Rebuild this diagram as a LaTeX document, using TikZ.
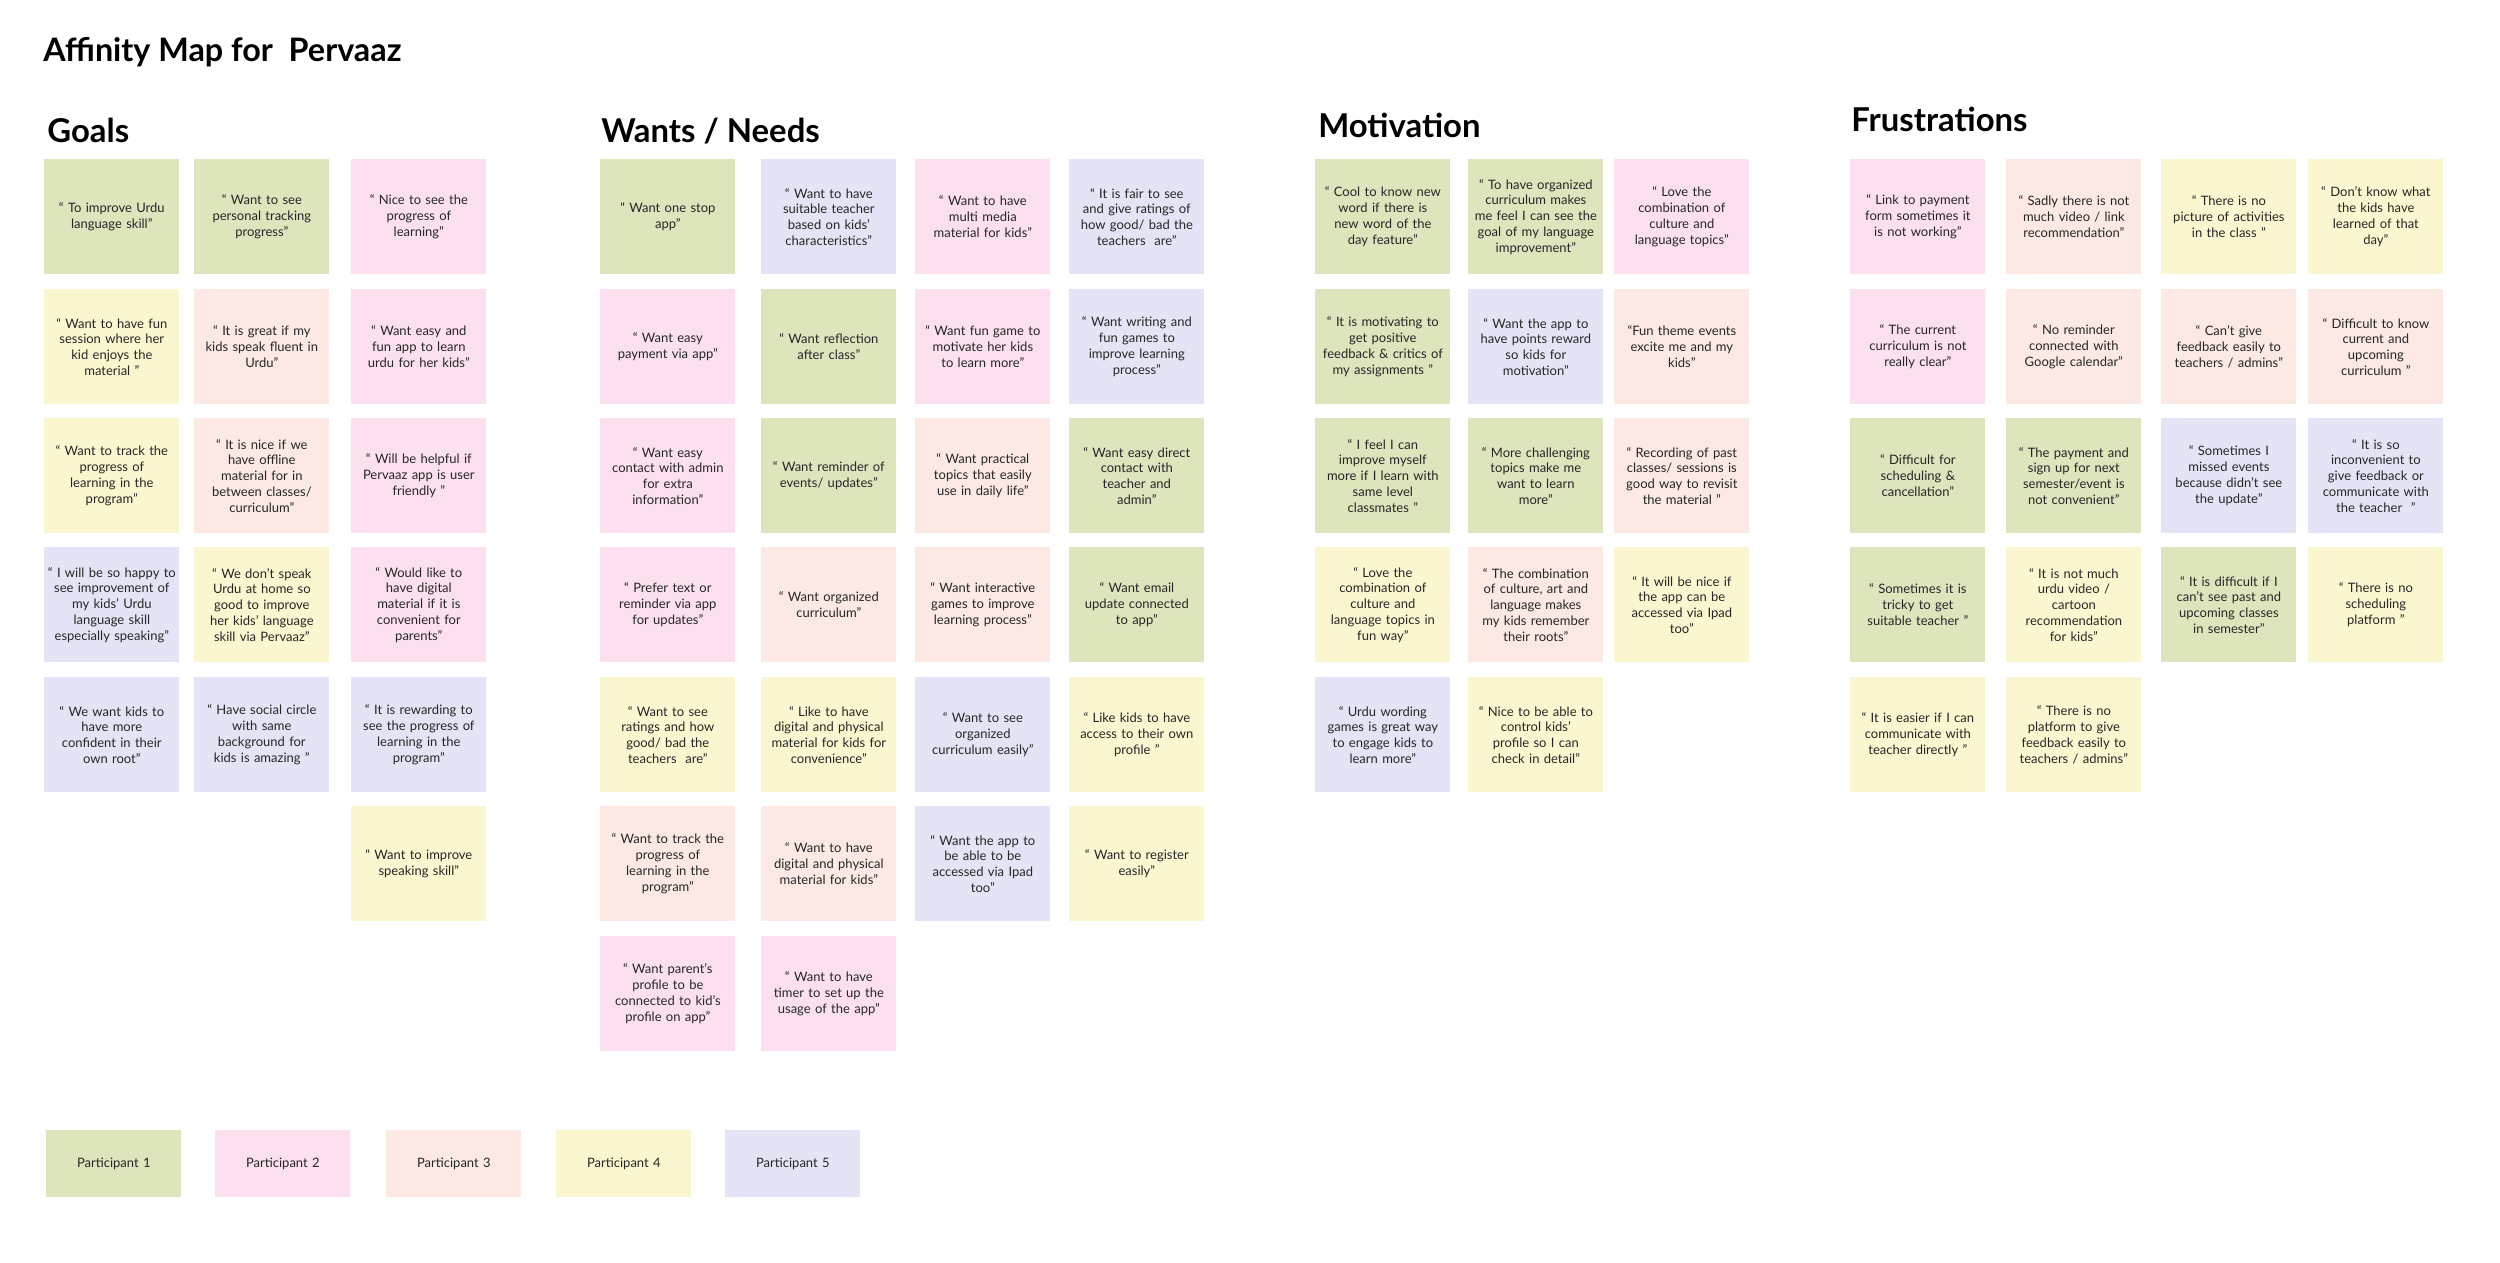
\documentclass[tikz,border=0pt]{standalone}
\usepackage{fontspec}
\setmainfont{Lato}
\usepackage{tikz}

\definecolor{pone}{HTML}{DDE5BD}
\definecolor{ptwo}{HTML}{FDE0F0}
\definecolor{pthree}{HTML}{FCE9E4}
\definecolor{pfour}{HTML}{FAF7D0}
\definecolor{pfive}{HTML}{E4E4F7}
\definecolor{notetext}{HTML}{262626}

\begin{document}
\begin{tikzpicture}[x=0.02cm, y=-0.02cm,
		note/.style={anchor=north west, minimum width=2.7cm, minimum height=2.3cm, inner sep=0pt, text width=2.64cm, align=center, text=notetext, font=\fontsize{7.4}{9}\selectfont},
		nA/.style={note, fill=pone},
		nB/.style={note, fill=ptwo},
		nC/.style={note, fill=pthree},
		nD/.style={note, fill=pfour},
		nE/.style={note, fill=pfive},
		head/.style={anchor=base west, inner sep=0pt, font=\fontsize{18.7}{22}\selectfont\bfseries},
		legend/.style={note, minimum height=1.34cm}]
		
		\fill[white] (0,0) rectangle (2500,1262);
		\useasboundingbox (0,0) rectangle (2500,1262);
		
		\node[head, font=\fontsize{18.4}{22}\selectfont\bfseries] (title) at (43,61) {Affinity Map for\ \ Pervaaz};
		
		% Goals
		\node[head] (goals) at (47,142) {Goals};
		
		\node[nA] (g11) at (44,159) {“ To improve Urdu\\language skill”};
		\node[nA] (g12) at (194,159) {“ Want to see\\personal tracking\\progress”};
		\node[nB] (g13) at (351,159) {“ Nice to see the\\progress of\\learning”};
		
		\node[nD] (g21) at (44,289) {“ Want to have fun\\session where her\\kid enjoys the\\material ”};
		\node[nC] (g22) at (194,289) {“ It is great if my\\kids speak fluent in\\Urdu”};
		\node[nB] (g23) at (351,289) {“ Want easy and\\fun app to learn\\urdu for her kids”};
		
		\node[nD] (g31) at (44,418) {“ Want to track the\\progress of\\learning in the\\program”};
		\node[nC] (g32) at (194,418) {“ It is nice if we\\have offline\\material for in\\between classes/\\curriculum”};
		\node[nB] (g33) at (351,418) {“ Will be helpful if\\Pervaaz app is user\\friendly ”};
		
		\node[nE] (g41) at (44,547) {“ I will be so happy to\\see improvement of\\my kids’ Urdu\\language skill\\especially speaking”};
		\node[nD] (g42) at (194,547) {“ We don’t speak\\Urdu at home so\\good to improve\\her kids’ language\\skill via Pervaaz”};
		\node[nB] (g43) at (351,547) {“ Would like to\\have digital\\material if it is\\convenient for\\parents”};
		
		\node[nE] (g51) at (44,677) {“ We want kids to\\have more\\confident in their\\own root”};
		\node[nE] (g52) at (194,677) {“ Have social circle\\with same\\background for\\kids is amazing ”};
		\node[nE] (g53) at (351,677) {“ It is rewarding to\\see the progress of\\learning in the\\program”};
		
		\node[nD] (g63) at (351,806) {“ Want to improve\\speaking skill”};
		
		% Wants / Needs
		\node[head] (wants) at (601,142) {Wants / Needs};
		
		\node[nA] (w11) at (600,159) {“ Want one stop\\app”};
		\node[nE] (w12) at (761,159) {“ Want to have\\suitable teacher\\based on kids’\\characteristics”};
		\node[nB] (w13) at (915,159) {“ Want to have\\multi media\\material for kids”};
		\node[nE] (w14) at (1069,159) {“ It is fair to see\\and give ratings of\\how good/ bad the\\teachers\ \ are”};
		
		\node[nB] (w21) at (600,289) {“ Want easy\\payment via app”};
		\node[nA] (w22) at (761,289) {“ Want reflection\\after class”};
		\node[nB] (w23) at (915,289) {“ Want fun game to\\motivate her kids\\to learn more”};
		\node[nE] (w24) at (1069,289) {“ Want writing and\\fun games to\\improve learning\\process”};
		
		\node[nB] (w31) at (600,418) {“ Want easy\\contact with admin\\for extra\\information”};
		\node[nA] (w32) at (761,418) {“ Want reminder of\\events/ updates”};
		\node[nC] (w33) at (915,418) {“ Want practical\\topics that easily\\use in daily life”};
		\node[nA] (w34) at (1069,418) {“ Want easy direct\\contact with\\teacher and\\admin”};
		
		\node[nB] (w41) at (600,547) {“ Prefer text or\\reminder via app\\for updates”};
		\node[nC] (w42) at (761,547) {“ Want organized\\curriculum”};
		\node[nC] (w43) at (915,547) {“ Want interactive\\games to improve\\learning process”};
		\node[nA] (w44) at (1069,547) {“ Want email\\update connected\\to app”};
		
		\node[nD] (w51) at (600,677) {“ Want to see\\ratings and how\\good/ bad the\\teachers\ \ are”};
		\node[nD] (w52) at (761,677) {“ Like to have\\digital and physical\\material for kids for\\convenience”};
		\node[nE] (w53) at (915,677) {“ Want to see\\organized\\curriculum easily”};
		\node[nD] (w54) at (1069,677) {“ Like kids to have\\access to their own\\profile ”};
		
		\node[nC] (w61) at (600,806) {“ Want to track the\\progress of\\learning in the\\program”};
		\node[nC] (w62) at (761,806) {“ Want to have\\digital and physical\\material for kids”};
		\node[nE] (w63) at (915,806) {“ Want the app to\\be able to be\\accessed via Ipad\\too”};
		\node[nD] (w64) at (1069,806) {“ Want to register\\easily”};
		
		\node[nB] (w71) at (600,936) {“ Want parent’s\\profile to be\\connected to kid’s\\profile on app”};
		\node[nB] (w72) at (761,936) {“ Want to have\\timer to set up the\\usage of the app”};
		
		% Motivation
		\node[head] (motiv) at (1318,137) {Motivation};
		
		\node[nA] (m11) at (1315,159) {“ Cool to know new\\word if there is\\new word of the\\day feature”};
		\node[nA] (m12) at (1468,159) {“ To have organized\\curriculum makes\\me feel I can see the\\goal of my language\\improvement”};
		\node[nB] (m13) at (1614,159) {“ Love the\\combination of\\culture and\\language topics”};
		
		\node[nA] (m21) at (1315,289) {“ It is motivating to\\get positive\\feedback \& critics of\\my assignments ”};
		\node[nE] (m22) at (1468,289) {“ Want the app to\\have points reward\\so kids for\\motivation”};
		\node[nC] (m23) at (1614,289) {“Fun theme events\\excite me and my\\kids”};
		
		\node[nA] (m31) at (1315,418) {“ I feel I can\\improve myself\\more if I learn with\\same level\\classmates ”};
		\node[nA] (m32) at (1468,418) {“ More challenging\\topics make me\\want to learn\\more”};
		\node[nC] (m33) at (1614,418) {“ Recording of past\\classes/ sessions is\\good way to revisit\\the material ”};
		
		\node[nD] (m41) at (1315,547) {“ Love the\\combination of\\culture and\\language topics in\\fun way”};
		\node[nC] (m42) at (1468,547) {“ The combination\\of culture, art and\\language makes\\my kids remember\\their roots”};
		\node[nD] (m43) at (1614,547) {“ It will be nice if\\the app can be\\accessed via Ipad\\too”};
		
		\node[nE] (m51) at (1315,677) {“ Urdu wording\\games is great way\\to engage kids to\\learn more”};
		\node[nD] (m52) at (1468,677) {“ Nice to be able to\\control kids’\\profile so I can\\check in detail”};
		
		% Frustrations
		\node[head] (frust) at (1851,131) {Frustrations};
		
		\node[nB] (f11) at (1850,159) {“ Link to payment\\form sometimes it\\is not working”};
		\node[nC] (f12) at (2006,159) {“ Sadly there is not\\much video / link\\recommendation”};
		\node[nD] (f13) at (2161,159) {“ There is no\\picture of activities\\in the class ”};
		\node[nD] (f14) at (2308,159) {“ Don’t know what\\the kids have\\learned of that\\day”};
		
		\node[nB] (f21) at (1850,289) {“ The current\\curriculum is not\\really clear”};
		\node[nC] (f22) at (2006,289) {“ No reminder\\connected with\\Google calendar”};
		\node[nC] (f23) at (2161,289) {“ Can’t give\\feedback easily to\\teachers / admins”};
		\node[nC] (f24) at (2308,289) {“ Difficult to know\\current and\\upcoming\\curriculum ”};
		
		\node[nA] (f31) at (1850,418) {“ Difficult for\\scheduling \&\\cancellation”};
		\node[nA] (f32) at (2006,418) {“ The payment and\\sign up for next\\semester/event is\\not convenient”};
		\node[nE] (f33) at (2161,418) {“ Sometimes I\\missed events\\because didn’t see\\the update”};
		\node[nE] (f34) at (2308,418) {“ It is so\\inconvenient to\\give feedback or\\communicate with\\the teacher\ \ ”};
		
		\node[nA] (f41) at (1850,547) {“ Sometimes it is\\tricky to get\\suitable teacher ”};
		\node[nD] (f42) at (2006,547) {“ It is not much\\urdu video /\\cartoon\\recommendation\\for kids”};
		\node[nA] (f43) at (2161,547) {“ It is difficult if I\\can’t see past and\\upcoming classes\\in semester”};
		\node[nD] (f44) at (2308,547) {“ There is no\\scheduling\\platform ”};
		
		\node[nD] (f51) at (1850,677) {“ It is easier if I can\\communicate with\\teacher directly ”};
		\node[nD] (f52) at (2006,677) {“ There is no\\platform to give\\feedback easily to\\teachers / admins”};
		
		% Participants
		\node[legend, fill=pone] (leg1) at (46,1130) {Participant 1};
		\node[legend, fill=ptwo] (leg2) at (215,1130) {Participant 2};
		\node[legend, fill=pthree] (leg3) at (386,1130) {Participant 3};
		\node[legend, fill=pfour] (leg4) at (556,1130) {Participant 4};
		\node[legend, fill=pfive] (leg5) at (725,1130) {Participant 5};
		
	\end{tikzpicture}
\end{document}
